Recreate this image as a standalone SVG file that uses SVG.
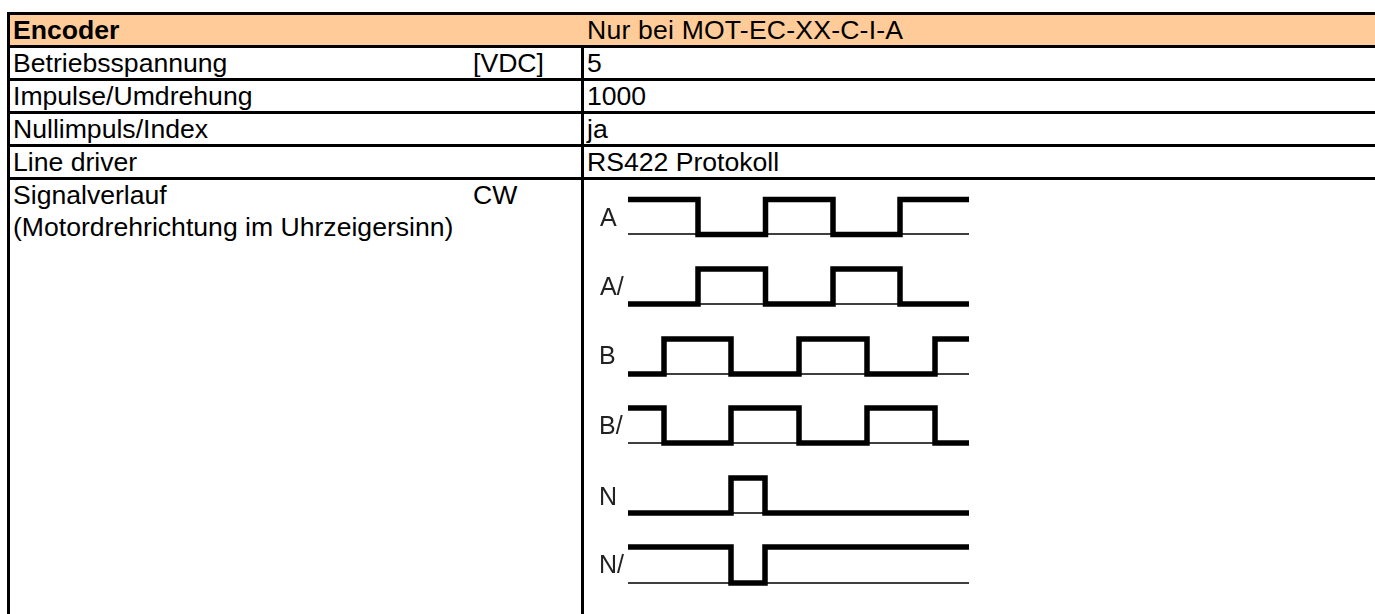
<svg xmlns="http://www.w3.org/2000/svg" width="1375" height="614" viewBox="0 0 1375 614">
<defs><filter id="soft" x="-5%" y="-5%" width="110%" height="110%"><feGaussianBlur stdDeviation="0.4"/></filter></defs>
<style>
text{font-family:"Liberation Sans",Arial,sans-serif;font-size:26.6px;fill:#000}
.b{font-weight:bold}
.l{font-size:25px;fill:#222}
.g{fill:none;stroke:#000;stroke-width:3}
.t{fill:none;stroke:#000;stroke-width:1.5}
.w{fill:none;stroke:#000;stroke-width:5.5;stroke-linejoin:miter}
</style>
<rect width="1375" height="614" fill="#fff"/>
<g id="header"><rect x="8" y="14" width="1367" height="33" fill="#fc9"/></g>
<g id="grid">
<path class="g" d="M7 13.5H1375M7 46.5H1375M7 79.5H1375M7 112.5H1375M7 145.5H1375M7 178.5H1375M8.5 12V614M582.5 46V614"/>
</g>
<g id="labels">
<text class="b" x="13" y="39">Encoder</text><text x="587" y="39" textLength="316">Nur bei MOT-EC-XX-C-I-A</text>
<text x="13" y="72">Betriebsspannung</text><text x="473" y="72">[VDC]</text><text x="587" y="72">5</text>
<text x="13" y="104.5">Impulse/Umdrehung</text><text x="587" y="104.5">1000</text>
<text x="13" y="137.5">Nullimpuls/Index</text><text x="587" y="137.5">ja</text>
<text x="13" y="170.5">Line driver</text><text x="587" y="170.5">RS422 Protokoll</text>
<text x="13" y="204">Signalverlauf</text><text x="473" y="204">CW</text>
<text x="13" y="236">(Motordrehrichtung im Uhrzeigersinn)</text>
</g>
<g id="signals" filter="url(#soft)">
<path class="t" d="M628 234H969M628 304H969M628 374H969M628 443H969M628 513H969M628 583H969"/>
<path class="w" d="M628 199.5H698V234.5H765.500V199.5H833V234.5H900V199.5H969"/>
<path class="w" d="M628 304H698V269H765.500V304H833V269H900V304H969"/>
<path class="w" d="M628 374H664V339H731V374H799V339H867V374H935V339H969"/>
<path class="w" d="M628 408H664V443H731V408H799V443H867V408H935V443H969"/>
<path class="w" d="M628 513H731V478H765V513H969"/>
<path class="w" d="M628 547H731V583H765V547H969"/>
<text class="l" x="600" y="225.5">A</text>
<text class="l" x="600" y="295">A/</text>
<text class="l" x="599" y="364">B</text>
<text class="l" x="599" y="434">B/</text>
<text class="l" x="599" y="505">N</text>
<text class="l" x="599" y="573">N/</text>
</g>
</svg>
